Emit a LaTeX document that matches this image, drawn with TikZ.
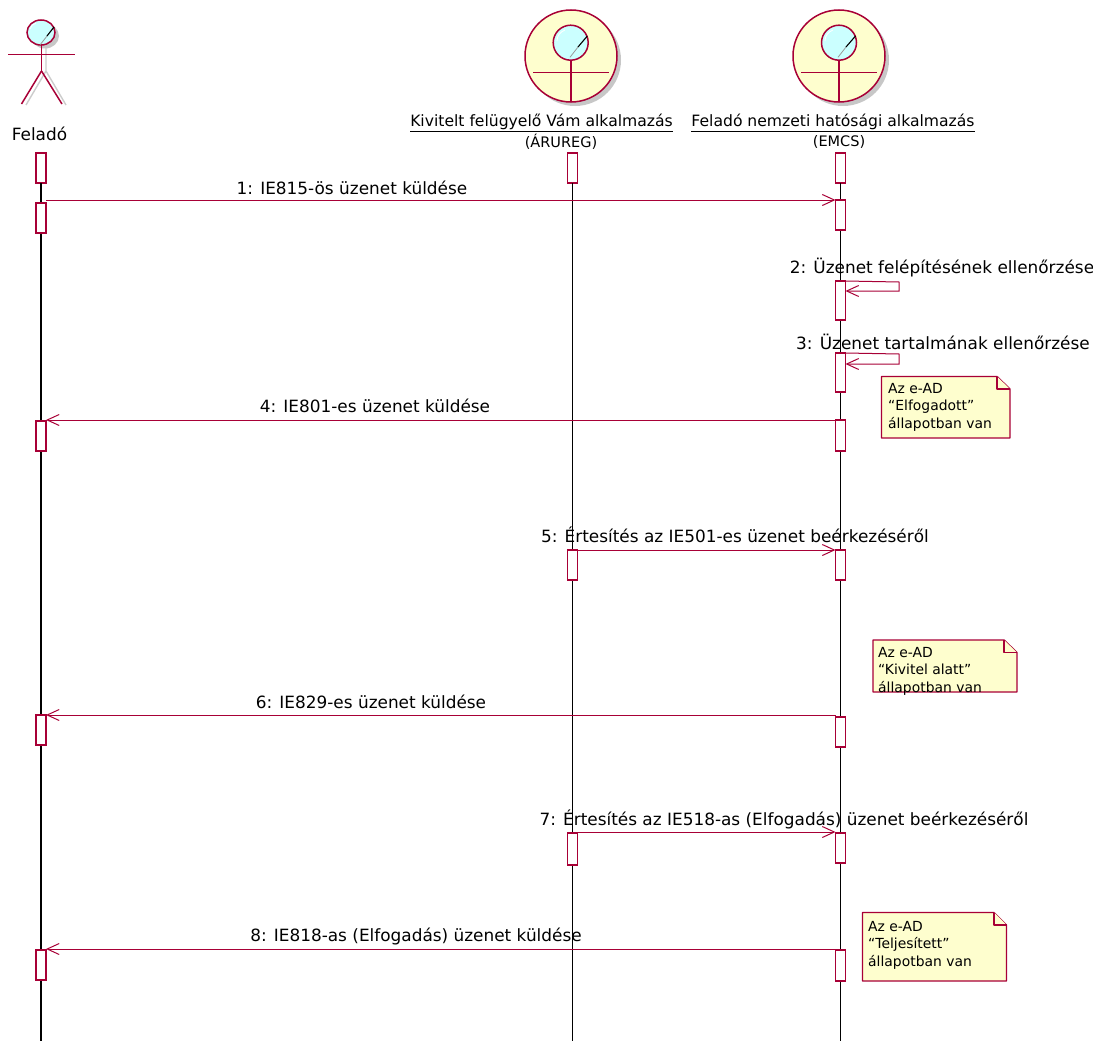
\documentclass[tikz,border=0pt]{standalone}
\usepackage{fontspec}
\setmainfont{DejaVu Sans}
\usetikzlibrary{arrows.meta, calc}
\definecolor{umlred}{HTML}{A80036}
\definecolor{umlnote}{HTML}{FEFECE}
\definecolor{umlhead}{HTML}{CBFFFF}
\tikzset{
	lifebox/.style={draw=umlred, fill=white, line width=1.1pt, minimum width=10pt, inner sep=0pt, outer sep=0pt},
	lifeline/.style={black, line width=1.3pt},
	msg/.style={umlred, line width=1pt, -{Straight Barb[length=12pt,width=11pt,line width=1pt]}},
	msgtext/.style={font=\fontsize{16.9}{20}\selectfont, inner sep=0pt},
	titletext/.style={font=\fontsize{15.6}{19}\selectfont, inner sep=0pt},
	subtext/.style={font=\fontsize{14.5}{17}\selectfont, inner sep=0pt},
	notebody/.style={draw=umlred, fill=umlnote, line width=1.4pt, line join=round},
	notetext/.style={font=\fontsize{13.9}{17.5}\selectfont, align=left, anchor=north west, inner sep=0pt},
	shadowpart/.style={fill=black!22, draw=none},
	umlpart/.style={draw=umlred, line width=1.5pt},
}
\begin{document}
\begin{tikzpicture}[x=1pt,y=-1pt]
	\useasboundingbox (0,0) rectangle (1093,1041);
	% actor
	\draw[black!20, line width=1.4pt] (46,46) -- (46,71) (46,71) -- (26,105) (46,71) -- (66,105);
	\filldraw[shadowpart] (45,36) ellipse [x radius=14pt, y radius=12.5pt];
	\filldraw[umlpart, fill=umlhead] (41,32.5) ellipse [x radius=14pt, y radius=12.5pt];
	\draw[white, line width=0.8pt] (30,29) .. controls (31,26) and (33,24) .. (36,23);
	\draw[black!40, line width=0.8pt] (40,45) -- (47,36);
	\draw[black, line width=1.1pt] (47,36) -- (54,27);
	\draw[umlpart] (41.5,45) -- (41.5,71);
	\draw[umlpart] (8,54.5) -- (75,54.5);
	\draw[umlpart] (41.5,71) -- (21.5,104);
	\draw[umlpart] (41.5,71) -- (62,104);
	\node[msgtext] (felado) at (39.5,134) {Feladó};
	% vam alkalmazas
	\filldraw[shadowpart] (575,60) circle [radius=46pt];
	\filldraw[umlpart, fill=umlnote] (571,56) circle [radius=46pt];
	\filldraw[umlpart, fill=umlhead] (570.7,42.7) circle [radius=17.5pt];
	\draw[white, line width=0.8pt] (557,41) .. controls (557,36) and (560,32) .. (565,30);
	\draw[black!40, line width=0.8pt] (570,57.3) -- (578,47);
	\draw[black, line width=1.1pt] (578,47) -- (587.3,36);
	\draw[umlpart] (571,60.5) -- (571,101);
	\draw[umlpart] (533,72.5) -- (609,72.5);
	\node[titletext] (vam) at (541.5,123) {\underline{Kivitelt felügyelő Vám alkalmazás}};
	\node[subtext] (arureg) at (561,142) {(ÁRUREG)};
	% nemzeti alkalmazas
	\filldraw[shadowpart] (843,60) circle [radius=46pt];
	\filldraw[umlpart, fill=umlnote] (839,56) circle [radius=46pt];
	\filldraw[umlpart, fill=umlhead] (839,42.7) circle [radius=17.5pt];
	\draw[white, line width=0.8pt] (825,41) .. controls (825,36) and (828,32) .. (833,30);
	\draw[black!40, line width=0.8pt] (838,57.3) -- (846,47);
	\draw[black, line width=1.1pt] (846,47) -- (855.5,36);
	\draw[umlpart] (839,60.5) -- (839,101);
	\draw[umlpart] (801,72.5) -- (877,72.5);
	\node[titletext] (nemzeti) at (833,123) {\underline{Feladó nemzeti hatósági alkalmazás}};
	\node[subtext] (emcs) at (839,142) {(EMCS)};
	% lifelines
	\coordinate (aend) at (41,1041);
	\coordinate (vend) at (572.5,1041);
	\coordinate (eend) at (840.5,1041);
	\node[lifebox, minimum height=30pt] (a1) at (41,168) {};
	\node[lifebox, minimum height=30pt] (v1) at (572.5,168) {};
	\node[lifebox, minimum height=30pt] (e1) at (840.5,168) {};
	\draw[lifeline] (a1.south) -- (aend);
	\draw[lifeline] (v1.south) -- (vend);
	\draw[lifeline] (e1.south) -- (eend);
	% activations
	\node[lifebox, minimum height=30pt] (a2) at (41,218) {};
	\node[lifebox, minimum height=30pt] (a3) at (41,436) {};
	\node[lifebox, minimum height=30pt] (a4) at (41,730) {};
	\node[lifebox, minimum height=30pt] (a5) at (41,965) {};
	\node[lifebox, minimum height=30pt] (v2) at (572.5,565) {};
	\node[lifebox, minimum height=32pt] (v3) at (572.5,849) {};
	\node[lifebox, minimum height=30pt] (e2) at (840.5,215) {};
	\node[lifebox, minimum height=39pt] (e3) at (840.5,300.5) {};
	\node[lifebox, minimum height=39pt] (e4) at (840.5,372.5) {};
	\node[lifebox, minimum height=31pt] (e5) at (840.5,435.5) {};
	\node[lifebox, minimum height=30pt] (e6) at (840.5,565) {};
	\node[lifebox, minimum height=30pt] (e7) at (840.5,732) {};
	\node[lifebox, minimum height=30pt] (e8) at (840.5,848) {};
	\node[lifebox, minimum height=31pt] (e9) at (840.5,965.5) {};
	% messages
	\coordinate (s2) at (899,282);
	\coordinate (s2b) at (899,291);
	\coordinate (s3) at (899,354);
	\coordinate (s3b) at (899,364);
	\draw[msg] (a2.east |- e2.north) -- (e2.north west);
	\draw[msg] (e3.north east) -- (s2) -- (s2b) -- (e3.east |- s2b);
	\draw[msg] (e4.north east) -- (s3) -- (s3b) -- (e4.east |- s3b);
	\draw[msg] (e5.north west) -- (a3.east |- e5.north);
	\draw[msg] (v2.north east) -- (e6.north west);
	\draw[msg] ($(e7.north west)+(0,-2)$) -- ($(a4.north east)$);
	\draw[msg] ($(v3.north east)+(0,-1)$) -- ($(e8.north west)+(0,-1)$);
	\draw[msg] ($(e9.north west)+(0,-1)$) -- ($(a5.north east)+(0,-1)$);
	% message labels
	\node[msgtext] (m1) at (352,188) {1: IE815-ös üzenet küldése};
	\node[msgtext] (m2) at (942,268) {2: Üzenet felépítésének ellenőrzése};
	\node[msgtext] (m3) at (943,342) {3: Üzenet tartalmának ellenőrzése};
	\node[msgtext] (m4) at (375,406) {4: IE801-es üzenet küldése};
	\node[msgtext] (m5) at (735,535) {5: Értesítés az IE501-es üzenet beérkezéséről};
	\node[msgtext] (m6) at (371,702) {6: IE829-es üzenet küldése};
	\node[msgtext] (m7) at (784,819) {7: Értesítés az IE518-as (Elfogadás) üzenet beérkezéséről};
	\node[msgtext] (m8) at (416,936) {8: IE818-as (Elfogadás) üzenet küldése};
	% notes
	\draw[notebody] (881.5,376.5) -- (997,376.5) -- (1010,389) -- (1010,438) -- (881.5,438) -- cycle;
	\draw[notebody] (997,376.5) -- (997,389) -- (1010,389);
	\node[notetext] (n1) at (888,383) {Az e-AD\\“Elfogadott”\\állapotban van};
	\draw[notebody] (873,640) -- (1004,640) -- (1017,652.5) -- (1017,692) -- (873,692) -- cycle;
	\draw[notebody] (1004,640) -- (1004,652.5) -- (1017,652.5);
	\node[notetext] (n2) at (878,647) {Az e-AD\\“Kivitel alatt”\\állapotban van};
	\draw[notebody] (862.5,912.5) -- (994,912.5) -- (1006.5,925) -- (1006.5,981) -- (862.5,981) -- cycle;
	\draw[notebody] (994,912.5) -- (994,925) -- (1006.5,925);
	\node[notetext] (n3) at (868,921) {Az e-AD\\“Teljesített”\\állapotban van};
\end{tikzpicture}
\end{document}
